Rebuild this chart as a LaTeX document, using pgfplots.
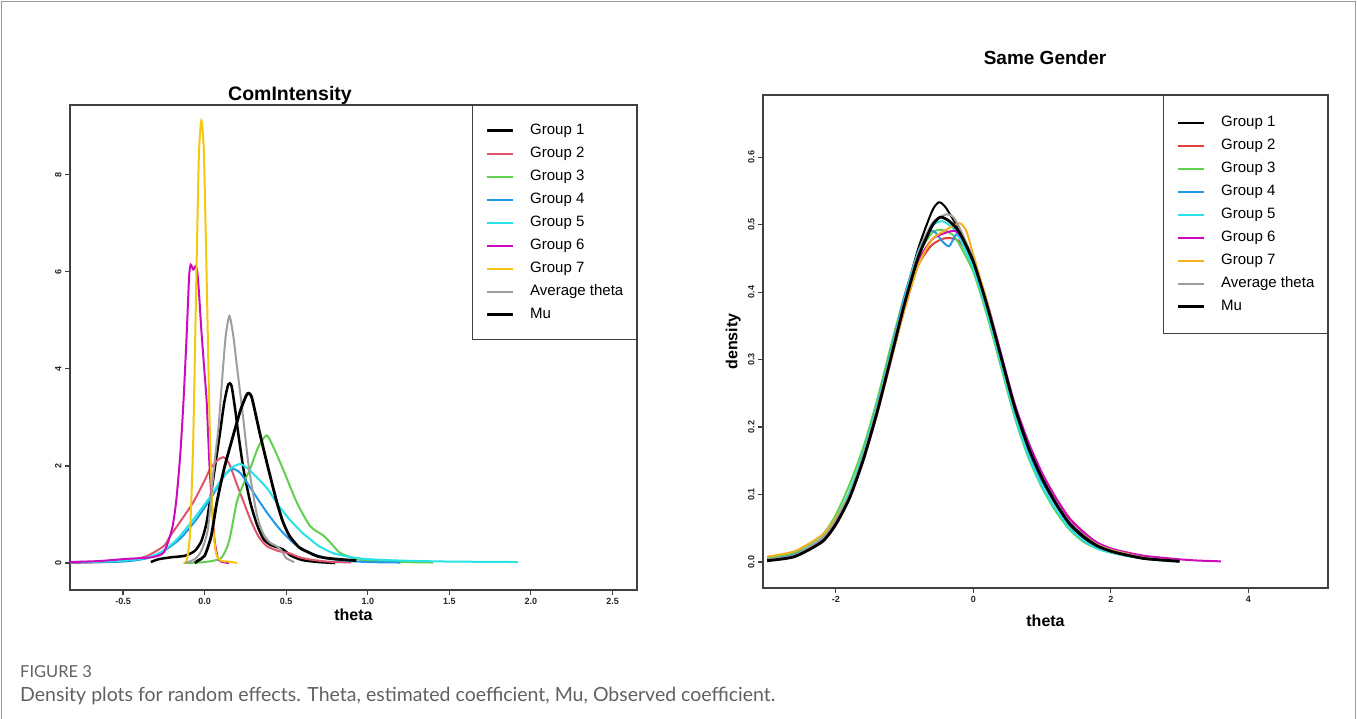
\documentclass[border=0pt]{standalone}
\usepackage{fontspec}
\setmainfont{Liberation Sans}
\newfontfamily\latofont{Lato}
\usepackage{pgfplots}
\pgfplotsset{compat=1.18}
\definecolor{cgtwo}{HTML}{DF536B}
\definecolor{cgthree}{HTML}{61D04F}
\definecolor{cgfour}{HTML}{2297E6}
\definecolor{cgfive}{HTML}{28E2E5}
\definecolor{cgsix}{HTML}{CD0BBC}
\definecolor{cgseven}{HTML}{F5C710}
\definecolor{cgavg}{HTML}{9E9E9E}
\definecolor{sgtwo}{HTML}{E0403A}
\definecolor{sgseven}{HTML}{F5B020}
\pgfplotsset{
  baseax/.style={
    scale only axis, anchor=south west,
    axis line style={black!75,line width=1.5pt},
    tick align=outside, tick pos=left,
    tick style={black!75,line width=1.1pt}, major tick length=5pt,
    tick label style={font=\fontsize{9}{9}\selectfont\bfseries, text=black!85},
    /pgf/number format/assume math mode=true,
    legend cell align=left,
    legend image code/.code={\draw[##1] (0pt,0pt) -- (26pt,0pt);},
    legend style={at={(rel axis cs:1,1)},anchor=north east,draw=black!75,line width=1.3pt,
      fill=white,font=\fontsize{15}{15}\selectfont,inner xsep=13pt,inner ysep=18pt,
      row sep=9pt,column sep=16pt,cells={anchor=west},
      nodes={inner sep=0pt,text height=11pt,text depth=3pt}},
  },
  gline/.style={line width=2pt, smooth, tension=0.4},
  bline/.style={line width=2.8pt, smooth, tension=0.4, color=black},
}
\begin{document}
\begin{tikzpicture}
\useasboundingbox (0pt,0pt) rectangle (1357pt,719pt);
\draw[black!40, line width=1.2pt] (1.5pt,0pt) -- (1.5pt,717.5pt) -- (1355.5pt,717.5pt) -- (1355.5pt,0pt);
% ---------------- left panel ----------------
\begin{axis}[baseax, at={(70pt,129pt)}, width=567pt, height=485pt,
  xmin=-0.825, xmax=2.65, ymin=-0.556, ymax=9.44,
  xtick={-0.5,0,0.5,1,1.5,2,2.5}, xticklabels={-0.5,0.0,0.5,1.0,1.5,2.0,2.5},
  ytick={0,2,4,6,8},
  yticklabel style={rotate=90,anchor=south},
  xlabel={theta},
  xlabel style={font=\fontsize{16}{16}\selectfont\bfseries, at={(axis description cs:0.5,0)}, anchor=north, inner sep=0pt, yshift=-19pt},
]
\addplot[bline, line width=2.5pt] coordinates {(-0.33,0.02) (-0.28,0.08) (-0.2,0.12) (-0.12,0.15) (-0.06,0.25) (-0.02,0.45) (0.01,0.8) (0.034,1.3) (0.06,1.9) (0.095,2.7) (0.12,3.3) (0.145,3.68) (0.165,3.65) (0.19,3.1) (0.207,2.65) (0.24,1.9) (0.28,1.25) (0.32,0.8) (0.36,0.5) (0.40,0.38) (0.44,0.33) (0.48,0.28) (0.53,0.15) (0.6,0.06) (0.7,0.02) (0.8,0.0)};
\addlegendentry{Group 1}
\addplot[gline, color=cgtwo] coordinates {(-0.83,0.0) (-0.6,0.02) (-0.45,0.06) (-0.35,0.15) (-0.25,0.35) (-0.21,0.56) (-0.15,0.85) (-0.07,1.25) (0.0,1.7) (0.034,1.94) (0.08,2.12) (0.115,2.18) (0.15,2.05) (0.2,1.6) (0.24,1.25) (0.28,0.9) (0.33,0.55) (0.38,0.35) (0.45,0.25) (0.52,0.2) (0.58,0.12) (0.65,0.07) (0.75,0.03) (0.9,0.01)};
\addlegendentry{Group 2}
\addplot[gline, color=cgthree] coordinates {(-0.12,0.0) (0.0,0.02) (0.1,0.1) (0.15,0.45) (0.197,1.25) (0.24,1.65) (0.28,1.95) (0.33,2.4) (0.38,2.63) (0.42,2.4) (0.48,1.94) (0.565,1.25) (0.647,0.76) (0.73,0.56) (0.79,0.35) (0.83,0.21) (0.93,0.08) (1.05,0.04) (1.2,0.02) (1.4,0.01)};
\addlegendentry{Group 3}
\addplot[gline, color=cgfour] coordinates {(-0.83,0.01) (-0.5,0.03) (-0.35,0.1) (-0.25,0.25) (-0.15,0.5) (-0.05,0.9) (0.05,1.4) (0.12,1.8) (0.17,1.94) (0.22,1.85) (0.3,1.45) (0.38,1.05) (0.46,0.7) (0.55,0.4) (0.65,0.2) (0.75,0.1) (0.85,0.05) (1.0,0.02) (1.2,0.01)};
\addlegendentry{Group 4}
\addplot[gline, color=cgfive] coordinates {(-0.83,0.02) (-0.6,0.03) (-0.4,0.08) (-0.28,0.2) (-0.18,0.45) (-0.08,0.85) (0.02,1.3) (0.1,1.7) (0.16,1.95) (0.22,2.04) (0.28,1.9) (0.38,1.55) (0.45,1.2) (0.52,0.9) (0.6,0.62) (0.647,0.49) (0.7,0.35) (0.79,0.2) (0.9,0.12) (1.0,0.08) (1.2,0.05) (1.5,0.03) (1.92,0.02)};
\addlegendentry{Group 5}
\addplot[gline, color=cgsix] coordinates {(-0.83,0.02) (-0.65,0.04) (-0.5,0.08) (-0.4,0.1) (-0.32,0.12) (-0.25,0.22) (-0.2,0.7) (-0.175,1.25) (-0.15,2.2) (-0.13,3.3) (-0.11,4.7) (-0.095,5.9) (-0.085,6.15) (-0.07,6.05) (-0.055,6.12) (-0.045,6.0) (-0.035,5.6) (-0.02,4.8) (0.0,3.9) (0.013,3.3) (0.03,2.0) (0.044,1.25) (0.06,0.5) (0.08,0.12) (0.1,0.03) (0.15,0.0)};
\addlegendentry{Group 6}
\addplot[gline, color=cgseven] coordinates {(-0.13,0.0) (-0.11,0.05) (-0.09,0.6) (-0.07,2.5) (-0.05,6.0) (-0.035,8.4) (-0.02,9.12) (-0.005,8.5) (0.01,6.3) (0.03,3.0) (0.05,0.9) (0.07,0.2) (0.1,0.05) (0.15,0.03) (0.2,0.0)};
\addlegendentry{Group 7}
\addplot[gline, color=cgavg] coordinates {(-0.12,0.0) (-0.06,0.08) (-0.02,0.25) (0.02,0.7) (0.055,1.9) (0.085,2.8) (0.11,3.9) (0.13,4.7) (0.152,5.09) (0.175,4.7) (0.2,4.0) (0.236,3.0) (0.27,2.0) (0.32,1.0) (0.36,0.6) (0.40,0.42) (0.44,0.35) (0.47,0.26) (0.5,0.1) (0.55,0.02)};
\addlegendentry{Average theta}
\addplot[bline] coordinates {(-0.06,0.0) (-0.04,0.05) (0.0,0.15) (0.04,0.55) (0.075,1.25) (0.12,1.95) (0.177,2.65) (0.22,3.15) (0.255,3.45) (0.27,3.5) (0.29,3.4) (0.34,2.65) (0.39,1.95) (0.443,1.25) (0.48,0.85) (0.52,0.56) (0.58,0.32) (0.65,0.2) (0.69,0.14) (0.75,0.1) (0.85,0.07) (0.93,0.05)};
\addlegendentry{Mu}
\end{axis}
% ---------------- right panel ----------------
\begin{axis}[baseax, at={(763pt,131pt)}, width=565pt, height=493pt,
  xmin=-3.06, xmax=5.16, ymin=-0.0385, ymax=0.692,
  xtick={-2,0,2,4},
  ytick={0,0.1,0.2,0.3,0.4,0.5,0.6}, yticklabels={0.0,0.1,0.2,0.3,0.4,0.5,0.6},
  yticklabel style={rotate=90,anchor=south},
  legend style={inner ysep=20pt},
  xlabel={theta}, ylabel={density},
  xlabel style={font=\fontsize{16}{16}\selectfont\bfseries, at={(axis description cs:0.5,0)}, anchor=north, inner sep=0pt, yshift=-27pt},
  ylabel style={font=\fontsize{16}{16}\selectfont\bfseries, at={(axis description cs:-0.039,0.5)}, anchor=south, inner sep=0pt},
]
\addplot[gline, color=black, line width=2pt] coordinates {(-3.0,0.003) (-2.6,0.012) (-2.2,0.03) (-2.0,0.06) (-1.8,0.10) (-1.6,0.155) (-1.4,0.225) (-1.2,0.305) (-1.0,0.39) (-0.8,0.465) (-0.6,0.52) (-0.5,0.533) (-0.4,0.525) (-0.2,0.49) (0.0,0.44) (0.2,0.375) (0.4,0.3) (0.6,0.225) (0.8,0.165) (1.0,0.12) (1.2,0.085) (1.4,0.055) (1.6,0.036) (1.8,0.022) (2.0,0.015) (2.2,0.01) (2.5,0.005) (3.0,0.001)};
\addlegendentry{Group 1}
\addplot[gline, color=sgtwo] coordinates {(-3.0,0.002) (-2.6,0.008) (-2.2,0.03) (-2.0,0.055) (-1.8,0.095) (-1.6,0.15) (-1.4,0.22) (-1.2,0.30) (-1.0,0.375) (-0.8,0.44) (-0.6,0.47) (-0.4,0.48) (-0.2,0.475) (0.0,0.44) (0.2,0.38) (0.4,0.30) (0.6,0.23) (0.8,0.175) (1.0,0.13) (1.2,0.095) (1.4,0.065) (1.6,0.045) (1.8,0.028) (2.0,0.02) (2.2,0.014) (2.5,0.007) (3.0,0.002)};
\addlegendentry{Group 2}
\addplot[gline, color=cgthree] coordinates {(-3.0,0.006) (-2.6,0.014) (-2.2,0.04) (-2.0,0.07) (-1.8,0.115) (-1.6,0.17) (-1.4,0.24) (-1.2,0.32) (-1.0,0.395) (-0.8,0.455) (-0.6,0.488) (-0.45,0.492) (-0.3,0.485) (-0.2,0.47) (0.0,0.43) (0.2,0.365) (0.4,0.29) (0.6,0.215) (0.8,0.155) (1.0,0.11) (1.2,0.075) (1.4,0.048) (1.6,0.03) (1.8,0.02) (2.0,0.014) (2.2,0.01) (2.5,0.005) (2.8,0.002)};
\addlegendentry{Group 3}
\addplot[gline, color=cgfour] coordinates {(-3.0,0.003) (-2.6,0.011) (-2.2,0.034) (-2.0,0.06) (-1.8,0.1) (-1.6,0.16) (-1.4,0.232) (-1.2,0.312) (-1.0,0.395) (-0.8,0.46) (-0.65,0.49) (-0.55,0.488) (-0.45,0.475) (-0.35,0.468) (-0.25,0.485) (-0.15,0.475) (0.0,0.44) (0.2,0.375) (0.4,0.298) (0.6,0.222) (0.8,0.165) (1.0,0.12) (1.2,0.085) (1.4,0.056) (1.6,0.038) (1.8,0.024) (2.0,0.016) (2.2,0.011) (2.5,0.005) (3.0,0.001)};
\addlegendentry{Group 4}
\addplot[gline, color=cgfive] coordinates {(-3.0,0.004) (-2.6,0.01) (-2.2,0.036) (-2.0,0.064) (-1.8,0.105) (-1.6,0.162) (-1.4,0.232) (-1.2,0.31) (-1.0,0.39) (-0.8,0.46) (-0.6,0.498) (-0.45,0.505) (-0.3,0.495) (-0.2,0.48) (0.0,0.435) (0.2,0.37) (0.4,0.295) (0.6,0.218) (0.8,0.158) (1.0,0.112) (1.2,0.078) (1.4,0.05) (1.6,0.032) (1.8,0.02) (2.0,0.014) (2.2,0.01) (2.5,0.005) (2.9,0.001)};
\addlegendentry{Group 5}
\addplot[gline, color=cgsix] coordinates {(-3.0,0.003) (-2.6,0.009) (-2.2,0.032) (-2.0,0.058) (-1.8,0.096) (-1.6,0.152) (-1.4,0.22) (-1.2,0.298) (-1.0,0.378) (-0.8,0.445) (-0.6,0.478) (-0.4,0.488) (-0.25,0.49) (-0.1,0.47) (0.0,0.448) (0.2,0.385) (0.4,0.31) (0.6,0.235) (0.8,0.178) (1.0,0.132) (1.2,0.095) (1.4,0.064) (1.6,0.044) (1.8,0.029) (2.0,0.02) (2.2,0.015) (2.5,0.009) (3.0,0.004) (3.3,0.002) (3.6,0.001)};
\addlegendentry{Group 6}
\addplot[gline, color=sgseven] coordinates {(-3.0,0.008) (-2.6,0.016) (-2.2,0.04) (-2.0,0.065) (-1.8,0.1) (-1.6,0.152) (-1.4,0.22) (-1.2,0.298) (-1.0,0.375) (-0.8,0.44) (-0.6,0.478) (-0.4,0.492) (-0.2,0.502) (-0.1,0.49) (0.0,0.455) (0.2,0.385) (0.4,0.305) (0.6,0.228) (0.8,0.17) (1.0,0.125) (1.2,0.088) (1.4,0.058) (1.6,0.04) (1.8,0.026) (2.0,0.018) (2.2,0.013) (2.5,0.006) (3.0,0.001)};
\addlegendentry{Group 7}
\addplot[gline, color=cgavg] coordinates {(-3.0,0.004) (-2.6,0.01) (-2.2,0.035) (-2.0,0.062) (-1.8,0.10) (-1.6,0.158) (-1.4,0.228) (-1.2,0.308) (-1.0,0.388) (-0.8,0.458) (-0.6,0.502) (-0.4,0.515) (-0.3,0.512) (-0.2,0.495) (0.0,0.448) (0.2,0.38) (0.4,0.303) (0.6,0.227) (0.8,0.17) (1.0,0.125) (1.2,0.088) (1.4,0.058) (1.6,0.04) (1.8,0.025) (2.0,0.017) (2.2,0.012) (2.5,0.006) (3.0,0.001)};
\addlegendentry{Average theta}
\addplot[bline] coordinates {(-3.0,0.002) (-2.6,0.008) (-2.2,0.03) (-2.0,0.056) (-1.8,0.095) (-1.6,0.152) (-1.4,0.222) (-1.2,0.302) (-1.0,0.383) (-0.8,0.452) (-0.6,0.498) (-0.48,0.511) (-0.35,0.505) (-0.2,0.488) (0.0,0.445) (0.2,0.38) (0.4,0.305) (0.6,0.23) (0.8,0.17) (1.0,0.124) (1.2,0.087) (1.4,0.057) (1.6,0.038) (1.8,0.024) (2.0,0.016) (2.2,0.011) (2.5,0.005) (3.0,0.001)};
\addlegendentry{Mu}
\end{axis}
% ---------------- titles and caption ----------------
\node[font=\fontsize{19.5}{19.5}\selectfont\bfseries] at (290pt,624pt) {ComIntensity};
\node[font=\fontsize{19}{19}\selectfont\bfseries] at (1045pt,661pt) {Same Gender};
\node[anchor=west, inner sep=0pt, font=\latofont\fontsize{16.5}{16.5}\selectfont, text=black!62] at (20pt,47pt) {FIGURE 3};
\node[anchor=west, inner sep=0pt, font=\latofont\fontsize{19.5}{19.5}\selectfont, text=black!62] at (20pt,23pt) {Density plots for random effects. Theta, estimated coefficient, Mu, Observed coefficient.};
\end{tikzpicture}
\end{document}
